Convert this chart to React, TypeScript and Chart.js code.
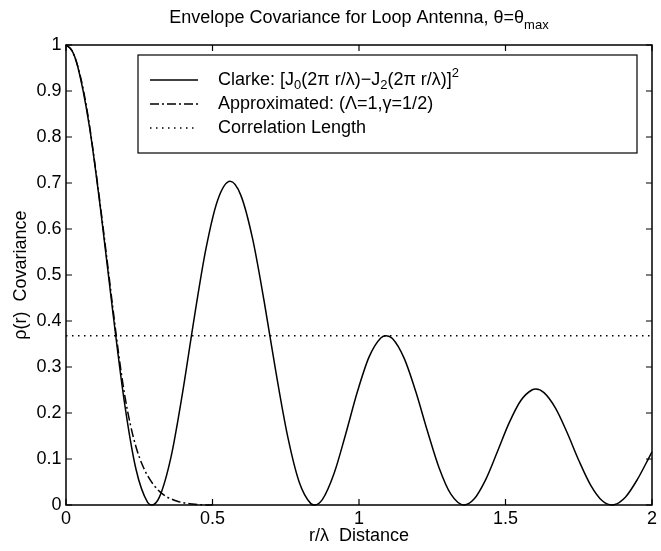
import { useEffect, useRef } from 'react';
import { Chart, registerables } from 'chart.js';

Chart.register(...registerables);

const FONT = "'Liberation Sans', Arial, Helvetica, sans-serif";

// Axis ticks
const xTicks = [0, 0.5, 1, 1.5, 2];
const xTickLabels = ['0', '0.5', '1', '1.5', '2'];
const yTicks = [0, 0.1, 0.2, 0.3, 0.4, 0.5, 0.6, 0.7, 0.8, 0.9, 1];
const yTickLabels = ['0', '0.1', '0.2', '0.3', '0.4', '0.5', '0.6', '0.7', '0.8', '0.9', '1'];

// Clarke envelope covariance vs normalised distance r/λ
const clarkeDistance = [
  0, 0.02, 0.0398, 0.0796, 0.1194, 0.1592, 0.1989, 0.2387, 0.2785, 0.293,
  0.3183, 0.3581, 0.3979, 0.4377, 0.4775, 0.5173, 0.5601, 0.5968, 0.6366, 0.6764,
  0.7162, 0.756, 0.7958, 0.8356, 0.8485, 0.8754, 0.9151, 0.9549, 0.9947, 1.0345,
  1.0743, 1.093, 1.1141, 1.1539, 1.1937, 1.2335, 1.2732, 1.313, 1.3586, 1.3926,
  1.4324, 1.4722, 1.512, 1.5518, 1.5915, 1.6037, 1.6313, 1.6711, 1.7109, 1.7507,
  1.7905, 1.8303, 1.8631, 1.8701, 1.9099, 1.9496, 1.9894, 2.0,
];
const clarkeCovariance = [
  1, 0.9882, 0.9538, 0.8242, 0.6354, 0.4229, 0.2254, 0.0783, 0.0056, 0,
  0.0166, 0.1036, 0.2445, 0.407, 0.5567, 0.6622, 0.7037, 0.6731, 0.5795, 0.4424,
  0.2898, 0.1509, 0.0502, 0.003, 0, 0.0122, 0.0689, 0.1549, 0.2467, 0.3221,
  0.3632, 0.368, 0.3618, 0.3192, 0.2466, 0.1608, 0.081, 0.024, 0, 0.0128,
  0.0553, 0.1156, 0.1779, 0.2267, 0.2506, 0.252, 0.2442, 0.21, 0.1564, 0.0962,
  0.0433, 0.0091, 0, 0.0004, 0.0176, 0.055, 0.1026, 0.1158,
];

// Approximated covariance (Λ=1, γ=1/2)
const approxDistance = [
  0, 0.02, 0.04, 0.06, 0.08, 0.1, 0.12, 0.14, 0.16, 0.18, 0.2, 0.22, 0.24,
  0.26, 0.28, 0.3, 0.32, 0.34, 0.36, 0.38, 0.4, 0.42, 0.44, 0.46, 0.48, 0.5,
];
const approxCovariance = [
  1, 0.988, 0.954, 0.9, 0.826, 0.735, 0.637, 0.533, 0.428, 0.327, 0.24, 0.174, 0.124,
  0.088, 0.062, 0.043, 0.029, 0.019, 0.013, 0.008, 0.005, 0.003, 0.0015, 0.0005, 0, 0,
];

// Correlation length level (1/e)
const correlationDistance = [0, 2];
const correlationLevel = [0.368, 0.368];

// Text
const titleMain = 'Envelope Covariance for Loop Antenna, θ=θ';
const titleSub = 'max';
const xLabel = 'r/λ  Distance';
const yLabel = 'ρ(r)  Covariance';
type Part = { t: string; k?: 'sub' | 'sup' };
const legendClarke: Part[] = [
  { t: 'Clarke: [J' }, { t: '0', k: 'sub' }, { t: '(2π r/λ)−J' }, { t: '2', k: 'sub' },
  { t: '(2π r/λ)]' }, { t: '2', k: 'sup' },
];
const legendApprox: Part[] = [{ t: 'Approximated: (Λ=1,γ=1/2)' }];
const legendCorr: Part[] = [{ t: 'Correlation Length' }];

const SOLID: number[] = [];
const DASH_DOT = [9, 3, 2, 3];
const DOTTED = [1.5, 4.5];

function drawRich(ctx: CanvasRenderingContext2D, x: number, y: number, parts: Part[], size: number, measureOnly = false) {
  let cx = x;
  for (const p of parts) {
    const fs = p.k ? Math.round(size * 0.72) : size;
    ctx.font = `${fs}px ${FONT}`;
    const dy = p.k === 'sub' ? size * 0.32 : p.k === 'sup' ? -size * 0.38 : 0;
    if (!measureOnly) ctx.fillText(p.t, cx, y + dy);
    cx += ctx.measureText(p.t).width;
  }
  return cx - x;
}

const decorPlugin = {
  id: 'decor',
  afterDraw(chart: any) {
    const { ctx, chartArea: a, scales } = chart;
    const xs = scales.x;
    const ys = scales.y;
    ctx.save();
    ctx.strokeStyle = '#000';
    ctx.fillStyle = '#000';
    ctx.setLineDash([]);

    // frame
    ctx.lineWidth = 1.5;
    ctx.strokeRect(a.left, a.top, a.right - a.left, a.bottom - a.top);

    // inward ticks on all four sides
    const tl = 6;
    ctx.lineWidth = 1.2;
    ctx.beginPath();
    for (const v of xTicks) {
      const px = xs.getPixelForValue(v);
      ctx.moveTo(px, a.bottom); ctx.lineTo(px, a.bottom - tl);
      ctx.moveTo(px, a.top); ctx.lineTo(px, a.top + tl);
    }
    for (const v of yTicks) {
      const py = ys.getPixelForValue(v);
      ctx.moveTo(a.left, py); ctx.lineTo(a.left + tl, py);
      ctx.moveTo(a.right, py); ctx.lineTo(a.right - tl, py);
    }
    ctx.stroke();

    // legend
    const bx = 138, by = 55, bw = 499, bh = 98;
    ctx.fillStyle = '#fff';
    ctx.fillRect(bx, by, bw, bh);
    ctx.lineWidth = 1.2;
    ctx.strokeRect(bx, by, bw, bh);
    const rows: [number[], Part[]][] = [
      [SOLID, legendClarke],
      [DASH_DOT, legendApprox],
      [DOTTED, legendCorr],
    ];
    ctx.fillStyle = '#000';
    ctx.textBaseline = 'middle';
    ctx.textAlign = 'left';
    rows.forEach(([dash, parts], i) => {
      const y = 80 + i * 24;
      ctx.setLineDash(dash);
      ctx.lineWidth = 1.5;
      ctx.beginPath();
      ctx.moveTo(150, y);
      ctx.lineTo(198, y);
      ctx.stroke();
      ctx.setLineDash([]);
      drawRich(ctx, 218, y, parts, 18);
    });

    // title with subscript
    const titleParts: Part[] = [{ t: titleMain }, { t: titleSub, k: 'sub' }];
    ctx.textBaseline = 'alphabetic';
    const w = drawRich(ctx, 0, 0, titleParts, 18, true);
    const cx = (a.left + a.right) / 2;
    drawRich(ctx, cx - w / 2, 23, titleParts, 18);

    ctx.restore();
  },
};

export default function App() {
  const ref = useRef<HTMLCanvasElement>(null);

  useEffect(() => {
    const toPts = (xs: number[], ys: number[]) => xs.map((x, i) => ({ x, y: ys[i] }));
    const chart = new Chart(ref.current as HTMLCanvasElement, {
      type: 'line',
      data: {
        datasets: [
          {
            label: 'Clarke',
            data: toPts(clarkeDistance, clarkeCovariance),
            borderColor: '#000',
            borderWidth: 1.5,
            pointRadius: 0,
            cubicInterpolationMode: 'monotone',
            fill: false,
            clip: 4,
          },
          {
            label: 'Approximated',
            data: toPts(approxDistance, approxCovariance),
            borderColor: '#000',
            borderWidth: 1.5,
            borderDash: DASH_DOT,
            pointRadius: 0,
            cubicInterpolationMode: 'monotone',
            fill: false,
            clip: 4,
          },
          {
            label: 'Correlation Length',
            data: toPts(correlationDistance, correlationLevel),
            borderColor: '#000',
            borderWidth: 1.5,
            borderDash: DOTTED,
            pointRadius: 0,
            fill: false,
            clip: 4,
          },
        ],
      },
      options: {
        animation: false,
        responsive: true,
        maintainAspectRatio: false,
        layout: { padding: { top: 45, right: 9, bottom: 0, left: 0 } },
        plugins: {
          legend: { display: false },
          title: { display: false },
          tooltip: { enabled: false },
        },
        scales: {
          x: {
            type: 'linear',
            min: 0,
            max: 2,
            grid: { display: false, drawTicks: false },
            border: { display: false },
            ticks: {
              stepSize: 0.5,
              padding: 3,
              maxRotation: 0,
              color: '#000',
              font: { family: FONT, size: 18 },
              callback: (_v: any, i: number) => xTickLabels[i],
            },
            title: {
              display: true,
              text: xLabel,
              color: '#000',
              font: { family: FONT, size: 18 },
              padding: { top: 0, bottom: 4 },
            },
            afterFit: (s: any) => { s.height = 46; },
          },
          y: {
            type: 'linear',
            min: 0,
            max: 1,
            grid: { display: false, drawTicks: false },
            border: { display: false },
            ticks: {
              stepSize: 0.1,
              padding: 4.5,
              color: '#000',
              font: { family: FONT, size: 18 },
              callback: (_v: any, i: number) => yTickLabels[i],
            },
            title: {
              display: true,
              text: yLabel,
              color: '#000',
              font: { family: FONT, size: 18 },
              padding: { top: 10, bottom: 0 },
            },
            afterFit: (s: any) => { s.width = 66; },
          },
        },
      },
      plugins: [decorPlugin],
    });
    return () => chart.destroy();
  }, []);

  return (
    <div style={{ position: 'fixed', left: 0, top: 0, width: 661, height: 551, background: '#fff' }}>
      <canvas ref={ref} />
    </div>
  );
}
